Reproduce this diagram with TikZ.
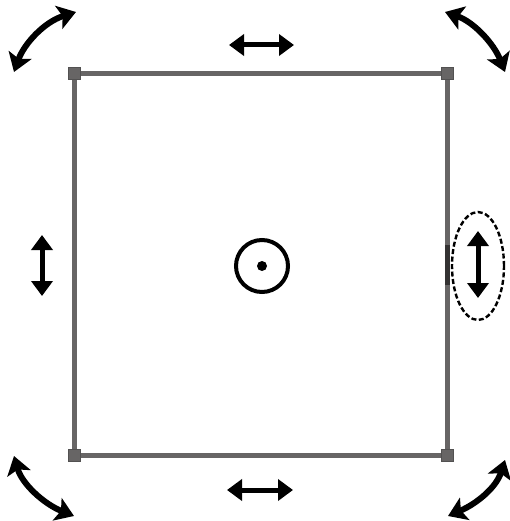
\documentclass[tikz,border=0pt]{standalone}
\usetikzlibrary{arrows.meta,shapes.geometric}
\definecolor{edgegray}{HTML}{676565}
\begin{document}
\begin{tikzpicture}[x=1pt,y=-1pt,
  corner/.style={draw=edgegray!80!black,fill=edgegray,rectangle,minimum size=12pt,inner sep=0pt,line width=1pt},
  side/.style={draw=edgegray,line width=5pt},
  dbl/.style={line width=5pt,{Triangle[length=15pt,width=21pt]}-{Triangle[length=15pt,width=21pt]}},
  rot/.style={line width=6pt,{Stealth[length=18pt,width=24pt,inset=4pt]}-{Stealth[length=18pt,width=24pt,inset=4pt]}}]
\useasboundingbox (0,0) rectangle (509,521);
% square
\node[corner] (tl) at (74,74) {};
\node[corner] (tr) at (447,74) {};
\node[corner] (bl) at (74,455) {};
\node[corner] (br) at (447,455) {};
\draw[side] (tl) -- (tr);
\draw[side] (tr) -- (br);
\draw[side] (br) -- (bl);
\draw[side] (bl) -- (tl);
\coordinate (rs1) at (447,245);
\coordinate (rs2) at (447,285);
\draw[line width=5pt,edgegray!50!black] (rs1) -- (rs2);
% centre
\node[circle,draw,line width=4pt,minimum size=52pt,inner sep=0pt] (c) at (262,266) {};
\node[circle,fill,minimum size=10pt,inner sep=0pt] (cd) at (c.center) {};
% ellipse
\node[ellipse,draw,line width=2.4pt,dash pattern=on 5pt off 2.5pt,minimum width=52pt,minimum height=108pt,inner sep=0pt] (e) at (478,266) {};
% straight double arrows
\coordinate (ta1) at (229,45); \coordinate (ta2) at (294,45);
\draw[dbl] (ta1) -- (ta2);
\coordinate (ba1) at (227,490); \coordinate (ba2) at (293,490);
\draw[dbl] (ba1) -- (ba2);
\coordinate (la1) at (42,235); \coordinate (la2) at (42,296);
\draw[dbl] (la1) -- (la2);
\coordinate (ra1) at (478,231); \coordinate (ra2) at (478,298);
\draw[dbl] (ra1) -- (ra2);
% corner rotation arrows
\coordinate (a1s) at (14,72); \coordinate (a1e) at (76,12);
\draw[rot] (a1s) .. controls (24,44) and (44,22) .. (a1e);
\coordinate (a2s) at (445,12); \coordinate (a2e) at (505,72);
\draw[rot] (a2s) .. controls (474,22) and (494,44) .. (a2e);
\coordinate (a3s) at (14,456); \coordinate (a3e) at (74,516);
\draw[rot] (a3s) .. controls (22,484) and (44,504) .. (a3e);
\coordinate (a4s) at (505,460); \coordinate (a4e) at (448,516);
\draw[rot] (a4s) .. controls (496,488) and (476,504) .. (a4e);
\end{tikzpicture}
\end{document}
